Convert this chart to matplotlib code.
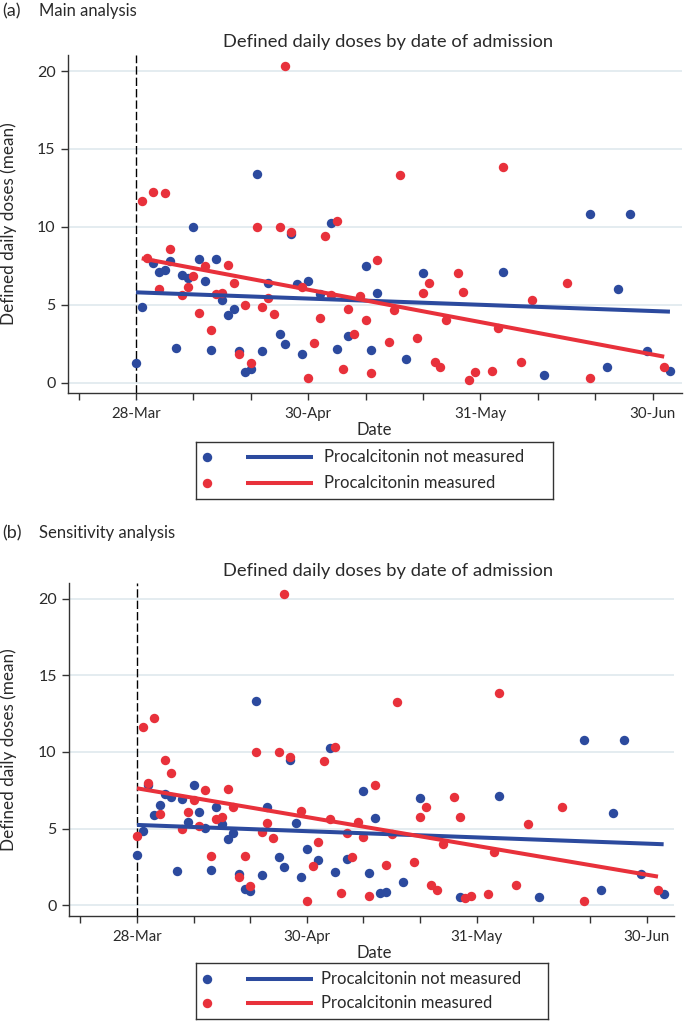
import matplotlib
matplotlib.use("Agg")
import matplotlib.pyplot as plt
import numpy as np

plt.rcParams['font.family'] = ['Lato', 'DejaVu Sans']

# ---------------- data (x = days from 28-Mar) ----------------
tick_pos = [0, 30, 60, 90]
tick_labels = ["28-Mar", "30-Apr", "31-May", "30-Jun"]
minor_pos = [-10, 10, 20, 40, 50, 70, 80]

# (a) Main analysis
a_blue_x = [0, 1, 3, 4, 5, 6, 7, 8, 9, 10, 11, 12, 13, 14, 15, 16, 17, 18, 19, 20,
            21, 22, 23, 25, 26, 27, 28, 29, 30, 32, 34, 35, 37, 40, 41, 42, 47, 50,
            64, 71, 79, 82, 84, 86, 89, 93]
a_blue_y = [1.28, 4.88, 7.7, 7.13, 7.23, 7.8, 2.2, 6.93, 6.72, 10.0, 7.92, 6.53, 2.07,
            7.92, 5.31, 4.35, 4.71, 2.03, 0.71, 0.89, 13.38, 2.06, 6.38, 3.15, 2.51,
            9.52, 6.31, 1.84, 6.55, 5.69, 10.23, 2.16, 3.02, 7.51, 2.1, 5.74, 1.5,
            7.02, 7.13, 0.51, 10.81, 0.99, 6.01, 10.81, 2.03, 0.73]
a_red_x = [1, 2, 3, 4, 5, 6, 8, 9, 10, 11, 12, 13, 14, 15, 16, 17, 18, 19, 20, 21,
           22, 23, 24, 25, 26, 27, 29, 30, 31, 32, 33, 34, 35, 36, 37, 38, 39, 40,
           41, 42, 44, 45, 46, 49, 50, 51, 52, 53, 54, 56, 57, 58, 59, 62, 63, 64,
           67, 69, 75, 79, 92]
a_red_y = [11.66, 8.0, 12.24, 6.0, 12.15, 8.6, 5.65, 6.15, 6.87, 4.45, 7.5, 3.38,
           5.67, 5.76, 7.57, 6.38, 1.84, 4.99, 1.26, 10.0, 4.85, 5.43, 4.43, 10.0,
           20.35, 9.7, 6.16, 0.28, 2.55, 4.16, 9.44, 5.61, 10.36, 0.86, 4.71, 3.15,
           5.56, 4.0, 0.64, 7.88, 2.63, 4.67, 13.31, 2.85, 5.74, 6.42, 1.35, 0.99,
           4.0, 7.02, 5.8, 0.15, 0.67, 0.77, 3.49, 13.86, 1.35, 5.31, 6.4, 0.28, 1.01]
# fitted lines (value at first and last x of each group)
a_blue_fit = [5.80, 4.56]
a_red_fit = [7.98, 1.67]

# (b) Sensitivity analysis
b_blue_x = [0, 1, 2, 3, 4, 5, 6, 7, 8, 9, 10, 11, 12, 13, 14, 15, 16, 17, 18, 19,
            20, 21, 22, 23, 25, 26, 27, 28, 29, 30, 32, 34, 35, 37, 40, 41, 42, 43,
            44, 47, 50, 57, 64, 71, 79, 82, 84, 86, 89, 93]
b_blue_y = [3.26, 4.87, 7.83, 5.87, 6.56, 7.26, 7.04, 2.26, 6.91, 5.43, 7.83, 6.09,
            5.06, 2.3, 6.39, 5.3, 4.3, 4.74, 2.04, 1.04, 0.95, 13.35, 2.0, 6.39, 3.13,
            2.48, 9.48, 5.39, 1.83, 3.69, 2.96, 10.24, 2.18, 3.0, 7.48, 2.09, 5.72,
            0.78, 0.85, 1.5, 6.98, 0.56, 7.13, 0.52, 10.8, 1.0, 6.0, 10.8, 2.02, 0.72]
b_red_x = [0, 1, 2, 3, 4, 5, 6, 8, 9, 10, 11, 12, 13, 14, 15, 16, 17, 18, 19, 20,
           21, 22, 23, 24, 25, 26, 27, 29, 30, 31, 32, 33, 34, 35, 36, 37, 38, 39,
           40, 41, 42, 44, 45, 46, 49, 50, 51, 52, 53, 54, 56, 57, 58, 59, 62, 63,
           64, 67, 69, 75, 79, 92]
b_red_y = [4.52, 11.65, 7.96, 12.24, 5.96, 9.48, 8.61, 4.95, 6.06, 6.87, 5.19, 7.49,
           3.19, 5.61, 5.74, 7.59, 6.39, 1.83, 3.19, 1.26, 10.0, 4.8, 5.39, 4.41,
           10.0, 20.3, 9.69, 6.17, 0.28, 2.56, 4.13, 9.43, 5.6, 10.35, 0.82, 4.7,
           3.17, 5.45, 4.48, 0.61, 7.83, 2.61, 4.65, 13.26, 2.85, 5.74, 6.43, 1.32,
           1.0, 4.0, 7.04, 5.78, 0.46, 0.63, 0.74, 3.5, 13.83, 1.32, 5.28, 6.39,
           0.3, 1.0]
b_blue_fit = [5.24, 3.98]
b_red_fit = [7.63, 1.87]

legend_labels = ["Procalcitonin not measured", "Procalcitonin measured"]
panel_titles = [("(a)", "Main analysis"), ("(b)", "Sensitivity analysis")]
chart_title = "Defined daily doses by date of admission"
ylabel = "Defined daily doses (mean)"
xlabel = "Date"

BLUE = "#2c4a9e"
RED = "#e8313b"
GRID = "#dfe9ee"
TXT = "#2a2a2a"
W, H = 684, 1022

fig = plt.figure(figsize=(W / 100, H / 100), dpi=100)


def fx(px):
    return px / W


def fy(py):
    return 1 - py / H


def panel(rect_px, xlim, ylim, bx, by, rx, ry, bfit, rfit):
    l, t, r, b = rect_px
    ax = fig.add_axes([fx(l), fy(b), (r - l) / W, (b - t) / H])
    ax.set_xlim(*xlim)
    ax.set_ylim(*ylim)
    for yv in [0, 5, 10, 15, 20]:
        ax.axhline(yv, color=GRID, lw=1.2, zorder=0)
    ax.axvline(0, color="black", lw=1.0, ls=(0, (6, 2.2)), zorder=1)
    ax.scatter(bx, by, s=46, color=BLUE, zorder=3, linewidths=0)
    ax.scatter(rx, ry, s=46, color=RED, zorder=4, linewidths=0)
    ax.plot([min(bx), max(bx)], bfit, color=BLUE, lw=2.9, zorder=5, solid_capstyle="butt")
    ax.plot([min(rx), max(rx)], rfit, color=RED, lw=2.9, zorder=6, solid_capstyle="butt")
    for s in ["top", "right"]:
        ax.spines[s].set_visible(False)
    for s in ["left", "bottom"]:
        ax.spines[s].set_color("#333333")
        ax.spines[s].set_linewidth(1.0)
    ax.set_xticks(tick_pos)
    ax.set_xticklabels(tick_labels)
    ax.set_xticks(minor_pos, minor=True)
    ax.set_yticks([0, 5, 10, 15, 20])
    ax.set_yticklabels(["0", "5", "10", "15", "20"])
    ax.tick_params(axis="both", which="both", length=5, width=1.0, color="#333333",
                   labelcolor=TXT)
    ax.tick_params(axis="x", pad=5, labelsize=10.8)
    ax.tick_params(axis="y", pad=4, labelsize=11.5)
    return ax


ax1 = panel((68, 55, 682, 393.3), (-11.84, 95.1), (-0.68, 21.03),
            a_blue_x, a_blue_y, a_red_x, a_red_y, a_blue_fit, a_red_fit)
ax2 = panel((69.3, 582.7, 674, 916), (-11.95, 94.83), (-0.70, 21.04),
            b_blue_x, b_blue_y, b_red_x, b_red_y, b_blue_fit, b_red_fit)

# titles and labels
for (lab, name), ybase, ytitle, ycen, ydate in [
        (panel_titles[0], 16, 42.5, 224, 430),
        (panel_titles[1], 538, 570.7, 749.5, 953)]:
    fig.text(fx(2), fy(ybase), lab, fontsize=13, color=TXT, va="baseline", ha="left")
    fig.text(fx(39), fy(ybase), name, fontsize=12, color=TXT, va="baseline", ha="left")
    fig.text(fx(388), fy(ytitle), chart_title, fontsize=13.2, color=TXT, va="center",
             ha="center")
    fig.text(fx(9), fy(ycen), ylabel, fontsize=12.3, color=TXT, va="center", ha="center",
             rotation=90)
    fig.text(fx(374), fy(ydate), xlabel, fontsize=12, color=TXT, va="center", ha="center")


def legend_box(l, t, r, b, rows, text_x):
    lax = fig.add_axes([fx(l), fy(b), (r - l) / W, (b - t) / H])
    lax.set_xlim(0, r - l)
    lax.set_ylim(b - t, 0)
    lax.set_xticks([])
    lax.set_yticks([])
    for s in lax.spines.values():
        s.set_color("#333333")
        s.set_linewidth(1.0)
    for (ry, col, lab) in zip(rows, [BLUE, RED], legend_labels):
        lax.plot([10.7], [ry], "o", ms=6.8, color=col, mec="none")
        lax.plot([50, 117], [ry, ry], color=col, lw=2.9, solid_capstyle="butt")
        lax.text(text_x, ry, lab, fontsize=12, color=TXT, va="center", ha="left")


legend_box(196, 442, 553, 499, [15.3, 40.7], 128)
legend_box(196, 963, 548, 1019, [16.3, 40.3], 125)

fig.savefig("out.png", dpi=100)
